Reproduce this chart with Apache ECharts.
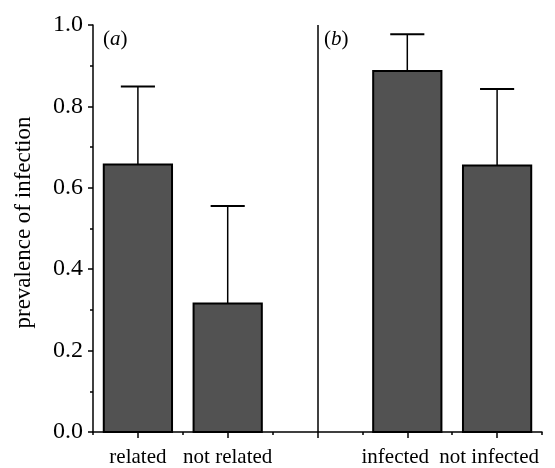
<!DOCTYPE html>
<html>
<head>
<meta charset="utf-8">
<script src="https://cdn.jsdelivr.net/npm/echarts@6/dist/echarts.min.js"></script>
<style>
html,body{margin:0;padding:0;background:#fff;}
#c{width:555px;height:468px;}
</style>
</head>
<body>
<div id="c"></div>
<script>
// ---- data ----
var categories = ['related', 'not related', 'infected', 'not infected'];
var categoryPos = [1, 3, 7, 9];            // slot centres on the x scale
var prevalence = [0.657, 0.316, 0.887, 0.655];
var upperError = [0.849, 0.555, 0.977, 0.843]; // top of the error whisker
var yTicks = [0, 0.2, 0.4, 0.6, 0.8, 1.0];
var panelLabels = ['a', 'b'];
var panelDivider = 5;

var FONT = '"Liberation Serif", "Times New Roman", serif';

var seriesData = categories.map(function (c, i) {
  return [categoryPos[i], prevalence[i], upperError[i]];
});

var chart = echarts.init(document.getElementById('c'), null, {renderer: 'canvas'});

var labelShift = {'related': 0, 'not related': 0, 'infected': 24, 'not infected': 16};

chart.setOption({
  animation: false,
  backgroundColor: '#fff',
  grid: {left: 93, right: 13, top: 25, bottom: 35, containLabel: false},
  xAxis: [{
    type: 'value', min: 0, max: 10, position: 'bottom',
    axisLine: {show: true, lineStyle: {color: '#000', width: 1.5}},
    axisTick: {show: true, customValues: [1, 3, 5, 7, 9], length: 6, lineStyle: {color: '#000', width: 1.5}},
    axisLabel: {
      show: true, customValues: categoryPos, margin: 15,
      formatter: function (v) {
        var name = categories[categoryPos.indexOf(v)];
        return '{l' + (labelShift[name] ? labelShift[name] : 0) + '|' + name + '}';
      },
      rich: {
        l0: {fontFamily: FONT, fontSize: 21, color: '#000'},
        l24: {fontFamily: FONT, fontSize: 21, color: '#000', padding: [0, 24, 0, 0]},
        l16: {fontFamily: FONT, fontSize: 21, color: '#000', padding: [0, 16, 0, 0]}
      }
    },
    splitLine: {show: false}
  }, {
    type: 'value', min: 0, max: 10, position: 'bottom',
    axisLine: {show: false},
    axisTick: {show: true, customValues: [0, 2, 4, 6, 8, 10], length: 3, lineStyle: {color: '#000', width: 1.5}},
    axisLabel: {show: false},
    splitLine: {show: false}
  }],
  yAxis: {
    type: 'value', min: 0, max: 1, interval: 0.2,
    name: 'prevalence of infection', nameLocation: 'middle', nameGap: 58,
    nameTextStyle: {fontFamily: FONT, fontSize: 23, color: '#000', padding: [0, 0, 0, 12]},
    axisLine: {show: true, lineStyle: {color: '#000', width: 1.5}},
    axisTick: {show: true, length: 5, lineStyle: {color: '#000', width: 1.5}},
    minorTick: {show: true, splitNumber: 2, length: 3, lineStyle: {color: '#000', width: 1.5}},
    axisLabel: {
      margin: 10, fontFamily: FONT, fontSize: 24, color: '#000',
      customValues: yTicks,
      formatter: function (v) { return v.toFixed(1); }
    },
    splitLine: {show: false}
  },
  series: [{
    type: 'custom',
    xAxisIndex: 0,
    data: seriesData,
    renderItem: function (params, api) {
      var x = api.value(0), v = api.value(1), e = api.value(2);
      var top = api.coord([x, v]);
      var base = api.coord([x, 0]);
      var errTop = api.coord([x, e]);
      var w = api.size([1.52, 0])[0];
      var capW = api.size([0.76, 0])[0];
      return {
        type: 'group',
        children: [{
          type: 'line',
          shape: {x1: top[0], y1: top[1], x2: errTop[0], y2: errTop[1]},
          style: {stroke: '#000', lineWidth: 1.5}
        }, {
          type: 'line',
          shape: {x1: errTop[0] - capW / 2, y1: errTop[1], x2: errTop[0] + capW / 2, y2: errTop[1]},
          style: {stroke: '#000', lineWidth: 2}
        }, {
          type: 'rect',
          shape: {x: top[0] - w / 2, y: top[1], width: w, height: base[1] - top[1]},
          style: {fill: '#525252', stroke: '#000', lineWidth: 2}
        }]
      };
    },
    markLine: {
      silent: true, symbol: 'none', label: {show: false},
      lineStyle: {color: '#000', width: 1.5, type: 'solid'},
      data: [{xAxis: panelDivider}]
    },
    z: 2
  }],
  graphic: [{
    type: 'text', left: 103, top: 29,
    style: {
      text: '{n|(}{i|' + panelLabels[0] + '}{n|)}',
      rich: {
        n: {fontFamily: FONT, fontSize: 21, fill: '#000'},
        i: {fontFamily: FONT, fontSize: 21, fontStyle: 'italic', fill: '#000'}
      }
    }
  }, {
    type: 'text', left: 324, top: 29,
    style: {
      text: '{n|(}{i|' + panelLabels[1] + '}{n|)}',
      rich: {
        n: {fontFamily: FONT, fontSize: 21, fill: '#000'},
        i: {fontFamily: FONT, fontSize: 21, fontStyle: 'italic', fill: '#000'}
      }
    }
  }]
});
</script>
</body>
</html>
